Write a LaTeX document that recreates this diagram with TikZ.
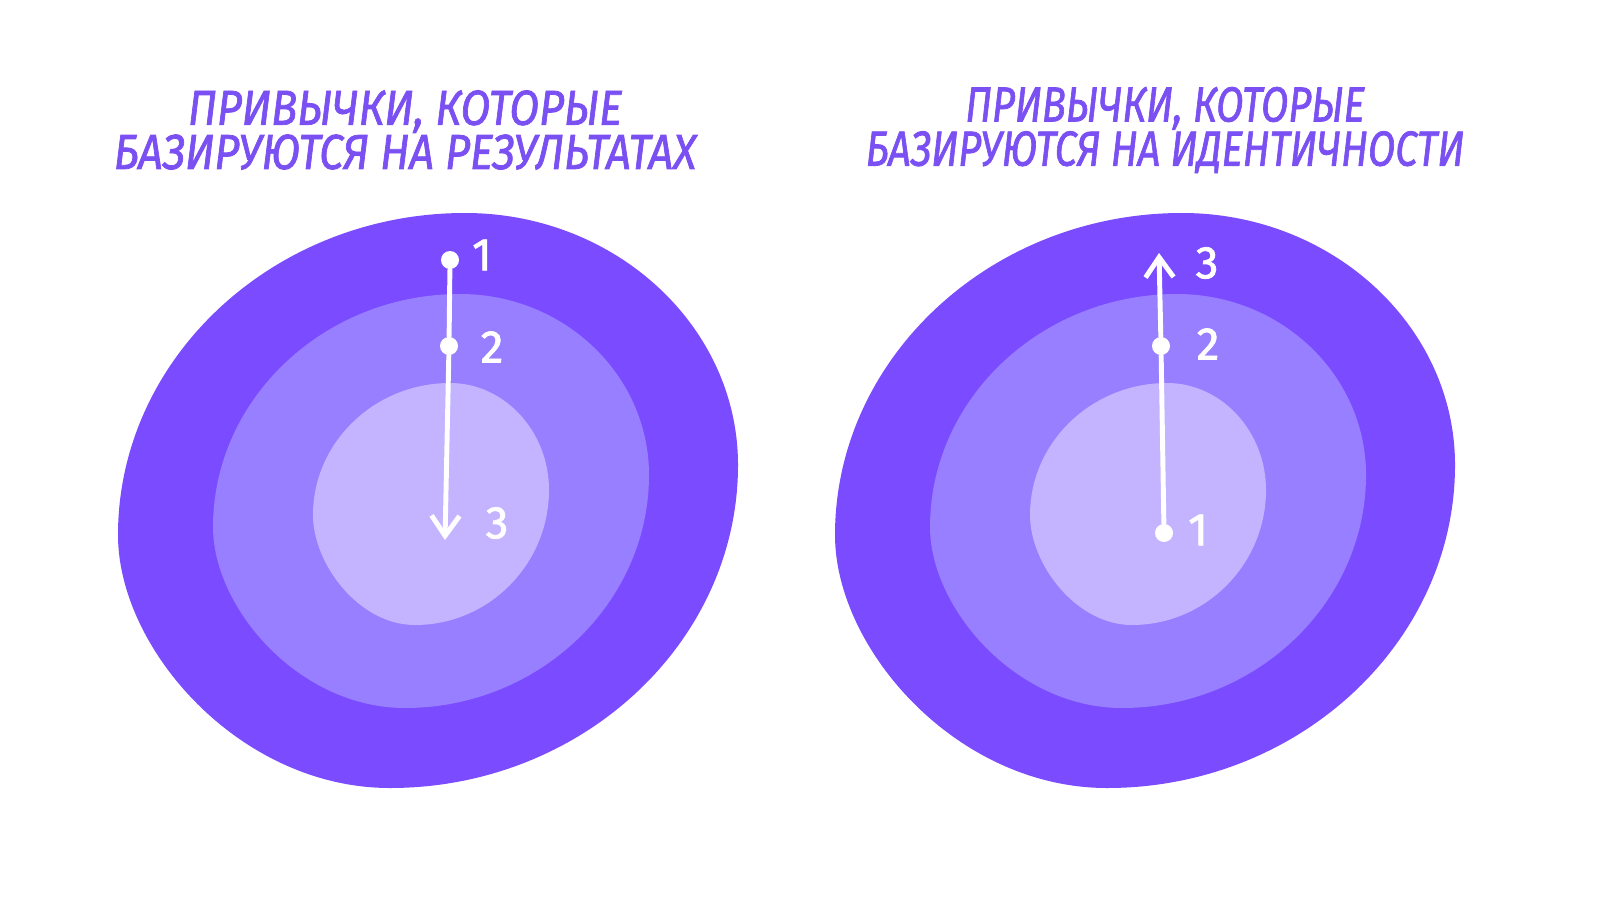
\documentclass[tikz,border=0pt]{standalone}
\usepackage{fontspec}
\setmainfont{Fira Sans}
\newfontfamily\titlefont[FakeBold=1.6]{Fira Sans}
\usetikzlibrary{arrows.meta}
\definecolor{outerviolet}{HTML}{7B4BFF}
\definecolor{midviolet}{HTML}{987FFF}
\definecolor{innerviolet}{HTML}{C4B4FF}
\definecolor{titleviolet}{HTML}{7A50F2}
\tikzset{
	outerblob/.style={fill=outerviolet, draw=none},
	midblob/.style={fill=midviolet, draw=none},
	innerblob/.style={fill=innerviolet, draw=none},
	dotnode/.style={circle, fill=white, inner sep=0pt, minimum size=0.18cm},
	numlabel/.style={white, font=\titlefont\fontsize{13}{13}\selectfont},
	titlenode/.style={titleviolet, align=center, xscale=0.88, transform shape,
		font=\titlefont\itshape\fontsize{14}{10}\selectfont},
	pathline/.style={white, line width=1.4pt, line cap=round},
	pathtip/.style={-{Straight Barb[length=0.2cm, width=0.28cm, line width=1.4pt]}}
}
% three nested blobs, drawn at the origin of the current scope
\newcommand{\drawblobs}{
	\fill[outerblob] (4.65,6.87) .. controls (6.15,6.87) and (7.38,5.74) .. (7.38,4.35)
		.. controls (7.38,2.57) and (5.81,1.12) .. (3.90,1.12)
		.. controls (2.40,1.12) and (1.18,2.51) .. (1.18,3.65)
		.. controls (1.18,5.42) and (2.74,6.87) .. (4.65,6.87) -- cycle;
	\fill[midblob] (4.60,6.06) .. controls (5.64,6.06) and (6.49,5.25) .. (6.49,4.25)
		.. controls (6.49,2.97) and (5.39,1.92) .. (4.05,1.92)
		.. controls (2.99,1.92) and (2.13,2.92) .. (2.13,3.73)
		.. controls (2.13,5.01) and (3.24,6.06) .. (4.60,6.06) -- cycle;
	\fill[innerblob] (4.50,5.17) .. controls (5.04,5.17) and (5.49,4.69) .. (5.49,4.10)
		.. controls (5.49,3.36) and (4.89,2.75) .. (4.15,2.75)
		.. controls (3.59,2.75) and (3.13,3.36) .. (3.13,3.85)
		.. controls (3.13,4.58) and (3.75,5.17) .. (4.50,5.17) -- cycle;
}

\begin{document}
\begin{tikzpicture}
		\useasboundingbox (0,0) rectangle (16,9);
		\fill[white] (0,0) rectangle (16,9);

		% Draw blobs
		\drawblobs
		\begin{scope}[xshift=7.17cm]
			\drawblobs
		\end{scope}

		% Titles
		\node[titlenode] (titleleft) at (4.05,7.70) {ПРИВЫЧКИ, КОТОРЫЕ\\[-0.02cm]БАЗИРУЮТСЯ НА РЕЗУЛЬТАТАХ};
		\node[titlenode, xscale=0.92] (titleright) at (11.65,7.70) {ПРИВЫЧКИ, КОТОРЫЕ\\[-0.02cm]БАЗИРУЮТСЯ НА ИДЕНТИЧНОСТИ};

		% -----------------------------------------------------
		% left: from outside to inside
		\node[dotnode] (lone) at (4.50,6.40) {};
		\node[dotnode] (ltwo) at (4.49,5.54) {};
		\coordinate (lthree) at (4.45,3.60);
		\draw[pathline] (lone) -- (ltwo);
		\draw[pathline, pathtip] (ltwo) -- (lthree);
		\node[numlabel] (lonelabel) at (4.82,6.45) {1};
		\node[numlabel] (ltwolabel) at (4.92,5.53) {2};
		\node[numlabel] (lthreelabel) at (4.97,3.77) {3};

		% -----------------------------------------------------
		% right: from inside to outside
		\node[dotnode] (rone) at (11.64,3.67) {};
		\node[dotnode] (rtwo) at (11.61,5.54) {};
		\coordinate (rthree) at (11.59,6.47);
		\draw[pathline] (rone) -- (rtwo);
		\draw[pathline, pathtip] (rtwo) -- (rthree);
		\node[numlabel] (ronelabel) at (11.98,3.70) {1};
		\node[numlabel] (rtwolabel) at (12.08,5.56) {2};
		\node[numlabel] (rthreelabel) at (12.07,6.37) {3};

\end{tikzpicture}
\end{document}
